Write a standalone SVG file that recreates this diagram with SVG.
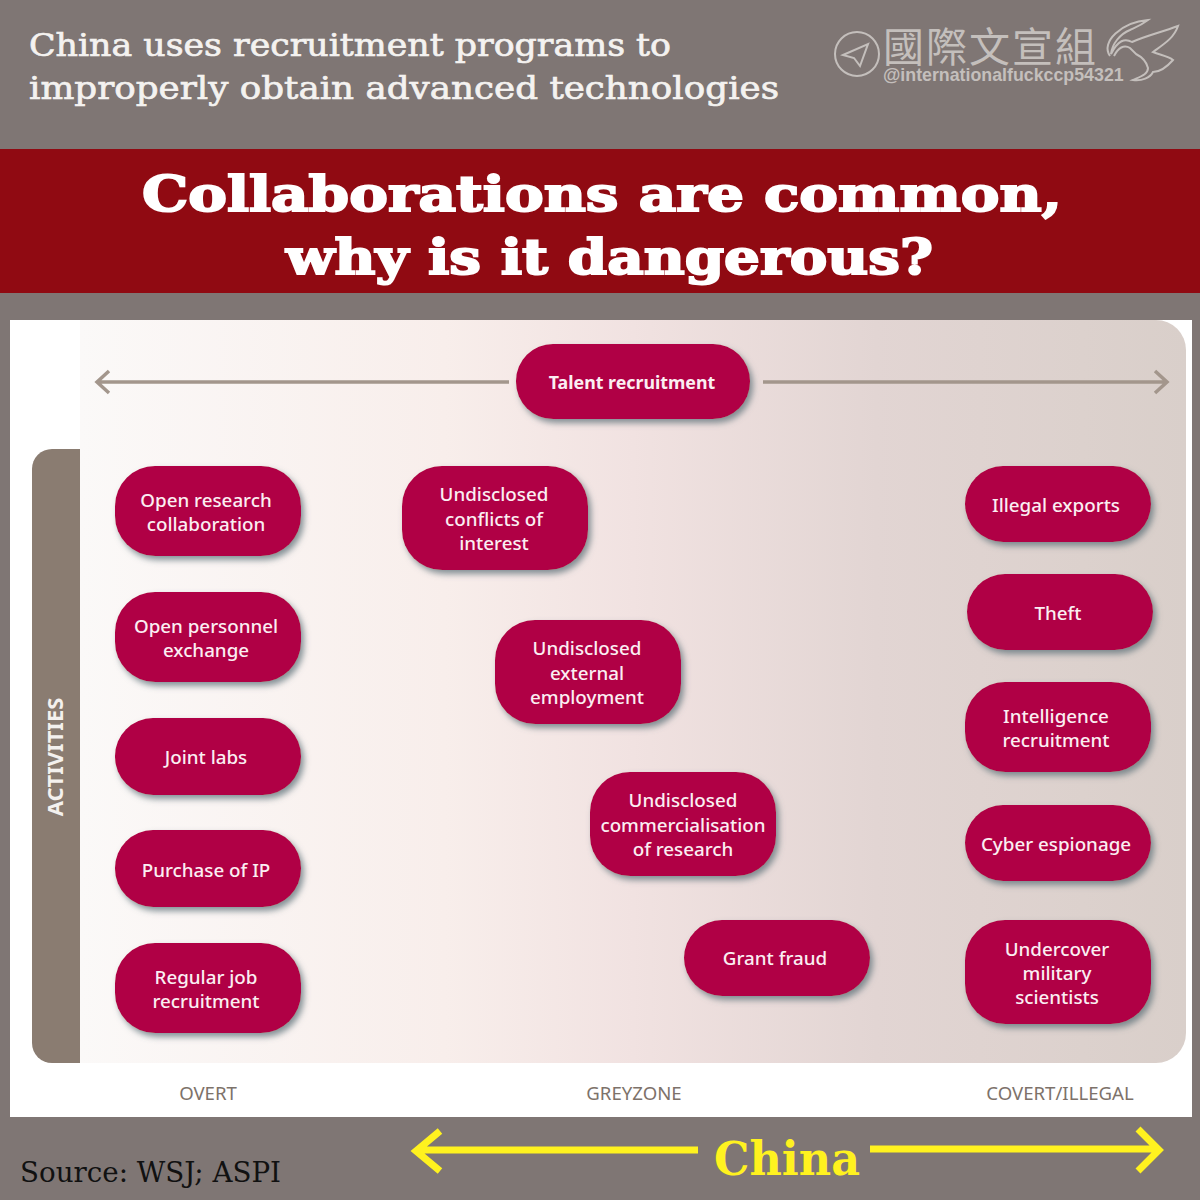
<svg xmlns="http://www.w3.org/2000/svg" width="1200" height="1200" viewBox="0 0 1200 1200">
<style>
.pill{fill:#b00444;filter:url(#sh)}
.pt{font-family:"Noto Sans","Open Sans",sans-serif;font-size:18.8px;font-weight:500;fill:#fbeef2;text-anchor:middle}
.ax{font-family:"Noto Sans","Open Sans",sans-serif;font-size:18.6px;fill:#7d726a;text-anchor:middle}
.hd{font-family:"DejaVu Serif",serif;font-size:32px;fill:#f4f2f0;stroke:#f4f2f0;stroke-width:.7}
.ti{font-family:"DejaVu Serif",serif;font-weight:bold;font-size:49px;fill:#fff;stroke:#fff;stroke-width:2}
.ar{fill:none;stroke:#a3968c;stroke-width:3.5}
.ye{fill:none;stroke:#fff21f;stroke-width:7}
.wm{fill:none;stroke:#c4bfbc;stroke-width:2}
</style>
<defs>
<filter id="sh" x="-15%" y="-20%" width="130%" height="145%"><feDropShadow dx="3" dy="4" stdDeviation="3" flood-color="#5d7078" flood-opacity="0.75"/></filter>
<linearGradient id="bg" x1="80" x2="1186" y1="0" y2="0" gradientUnits="userSpaceOnUse">
<stop offset="0" stop-color="#fbf9f8"/><stop offset="0.33" stop-color="#f8eeeb"/><stop offset="0.5" stop-color="#f1e2e1"/><stop offset="0.72" stop-color="#e2d5d3"/><stop offset="1" stop-color="#d9cfca"/>
</linearGradient>
</defs>
<rect width="1200" height="1200" fill="#7f7674"/>
<rect y="149" width="1200" height="144" fill="#900a12"/>
<rect x="10" y="320" width="1182" height="797" fill="#fff"/>
<path d="M80 320H1156a30 30 0 0 1 30 30V1033a30 30 0 0 1-30 30H80Z" fill="url(#bg)"/>
<path d="M80 449H52a20 20 0 0 0-20 20V1043a20 20 0 0 0 20 20H80Z" fill="#8a7c71"/>
<text class="hd" x="29" y="56" textLength="642" lengthAdjust="spacingAndGlyphs">China uses recruitment programs to</text>
<text class="hd" x="29" y="99" textLength="750" lengthAdjust="spacingAndGlyphs">improperly obtain advanced technologies</text>
<text class="ti" x="142" y="211" textLength="920" lengthAdjust="spacingAndGlyphs">Collaborations are common,</text>
<text class="ti" x="286" y="274" textLength="647" lengthAdjust="spacingAndGlyphs">why is it dangerous?</text>
<g id="watermark">
<circle class="wm" cx="857" cy="54" r="22"/>
<path class="wm" d="M843 55L868 44L860 66L854 58Z"/>
<text x="883" y="62" font-family="'Noto Sans CJK TC',sans-serif" font-size="41" fill="#c4bfbc" letter-spacing="2">國際文宣組</text>
<text x="883" y="81" font-family="'Liberation Sans',sans-serif" font-weight="bold" font-size="17.8" fill="#c4bfbc">@internationalfuckccp54321</text>
<path class="wm" d="M1110 56C1100 42 1122 22 1148 20C1140 26 1134 28 1130 30C1120 34 1112 44 1111 54C1118 40 1125 38 1132 42C1145 36 1162 32 1178 26C1174 38 1164 44 1153 52C1160 55 1168 56 1173 60C1166 68 1160 72 1153 72C1150 78 1142 81 1133 80C1142 76 1148 74 1148 68C1146 60 1140 56 1136 54L1130 48C1124 44 1118 48 1114 56"/>
</g>
<g id="connectors">
<path class="ar" d="M509 382H97M109 371L97 382L109 393"/>
<path class="ar" d="M763 382H1167M1155 371L1167 382L1155 393"/>
<path class="ye" d="M698 1150H418M440 1131L416 1151L440 1171"/>
<path class="ye" d="M870 1149H1158M1138 1129L1159 1150L1138 1171"/>
</g>
<text class="ax" transform="translate(63 757) rotate(-90)" style="font-weight:700;fill:#f4f1ee;font-size:22px">ACTIVITIES</text>
<g id="n-talent"><rect class="pill" x="516" y="344" width="234" height="75" rx="37"/><text class="pt" x="632" y="389" style="font-weight:700;font-size:17.8px">Talent recruitment</text></g>
<g id="n-open-research"><rect class="pill" x="115" y="466" width="186" height="90" rx="40"/><text class="pt" x="206" y="507">Open research</text><text class="pt" x="206" y="531">collaboration</text></g>
<g id="n-open-personnel"><rect class="pill" x="115" y="592" width="186" height="90" rx="40"/><text class="pt" x="206" y="633">Open personnel</text><text class="pt" x="206" y="657">exchange</text></g>
<g id="n-joint"><rect class="pill" x="115" y="718" width="186" height="77" rx="38"/><text class="pt" x="206" y="764">Joint labs</text></g>
<g id="n-ip"><rect class="pill" x="115" y="830" width="186" height="77" rx="38"/><text class="pt" x="206" y="877">Purchase of IP</text></g>
<g id="n-job"><rect class="pill" x="115" y="943" width="186" height="90" rx="40"/><text class="pt" x="206" y="984">Regular job</text><text class="pt" x="206" y="1008">recruitment</text></g>
<g id="n-conflicts"><rect class="pill" x="402" y="466" width="186" height="104" rx="40"/><text class="pt" x="494" y="501">Undisclosed</text><text class="pt" x="494" y="526">conflicts of</text><text class="pt" x="494" y="550">interest</text></g>
<g id="n-employment"><rect class="pill" x="495" y="620" width="186" height="104" rx="40"/><text class="pt" x="587" y="655">Undisclosed</text><text class="pt" x="587" y="680">external</text><text class="pt" x="587" y="704">employment</text></g>
<g id="n-commercial"><rect class="pill" x="590" y="772" width="186" height="104" rx="40"/><text class="pt" x="683" y="807">Undisclosed</text><text class="pt" x="683" y="832">commercialisation</text><text class="pt" x="683" y="856">of research</text></g>
<g id="n-grant"><rect class="pill" x="684" y="920" width="186" height="76" rx="38"/><text class="pt" x="775" y="965">Grant fraud</text></g>
<g id="n-exports"><rect class="pill" x="965" y="466" width="186" height="76" rx="38"/><text class="pt" x="1056" y="512">Illegal exports</text></g>
<g id="n-theft"><rect class="pill" x="967" y="574" width="186" height="76" rx="38"/><text class="pt" x="1058" y="620">Theft</text></g>
<g id="n-intel"><rect class="pill" x="965" y="682" width="186" height="90" rx="40"/><text class="pt" x="1056" y="723">Intelligence</text><text class="pt" x="1056" y="747">recruitment</text></g>
<g id="n-cyber"><rect class="pill" x="965" y="805" width="186" height="76" rx="38"/><text class="pt" x="1056" y="851">Cyber espionage</text></g>
<g id="n-undercover"><rect class="pill" x="965" y="920" width="186" height="104" rx="40"/><text class="pt" x="1057" y="956">Undercover</text><text class="pt" x="1057" y="980">military</text><text class="pt" x="1057" y="1004">scientists</text></g>
<text class="ax" x="208" y="1100">OVERT</text>
<text class="ax" x="634" y="1100">GREYZONE</text>
<text class="ax" x="1060" y="1100">COVERT/ILLEGAL</text>
<text x="20" y="1182" font-family="'DejaVu Serif',serif" font-size="27" fill="#111" textLength="261" lengthAdjust="spacingAndGlyphs">Source: WSJ; ASPI</text>
<text x="714" y="1175" font-family="'DejaVu Serif',serif" font-weight="bold" font-size="47" fill="#fff21f" textLength="146" lengthAdjust="spacingAndGlyphs">China</text>
</svg>
